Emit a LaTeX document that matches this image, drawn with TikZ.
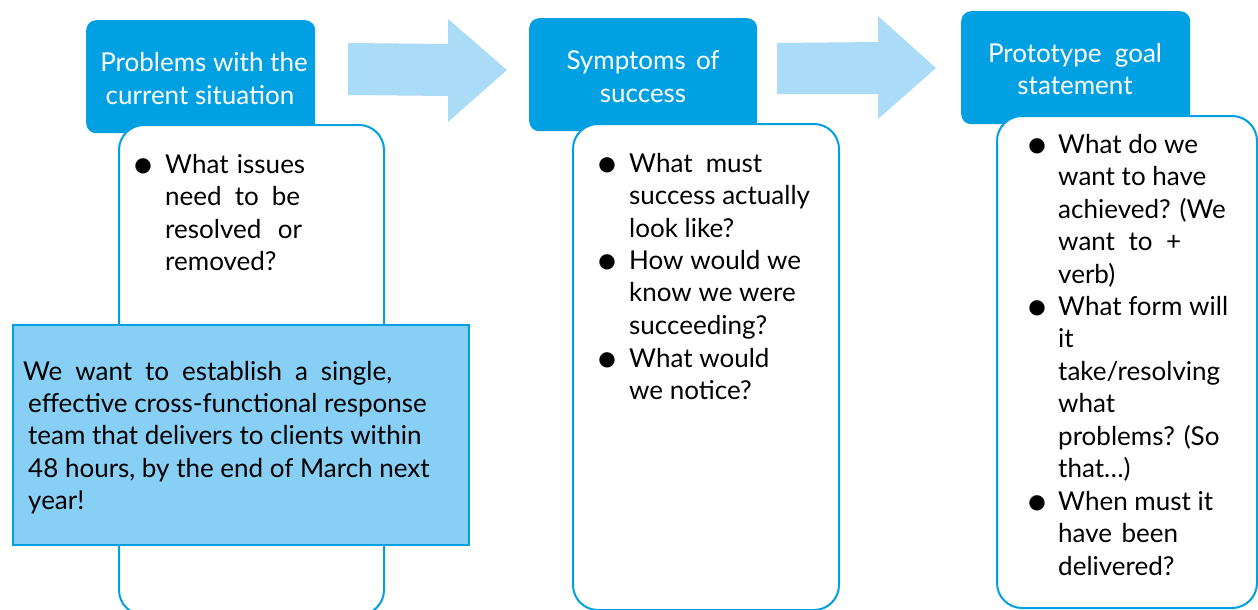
\documentclass[tikz,border=0pt]{standalone}
\usepackage{fontspec}
\setmainfont{Lato}
\newfontfamily\bulletfont{DejaVu Sans}
\definecolor{hdrblue}{RGB}{0,160,227}
\definecolor{goalblue}{RGB}{135,207,245}
\definecolor{flowblue}{RGB}{170,220,247}
\tikzset{
  hdr/.style={fill=hdrblue, draw=none, rounded corners=10pt, inner sep=0, anchor=north west},
  panel/.style={draw=hdrblue, line width=2pt, fill=white, rounded corners=25pt, inner sep=0, anchor=north west},
  goal/.style={draw=hdrblue, line width=2pt, fill=goalblue, inner sep=0, anchor=north west},
  flow/.style={fill=flowblue, draw=none},
  txt/.style={font=\fontsize{26}{32.5}\selectfont, inner sep=0, anchor=base west},
  htxt/.style={font=\fontsize{26}{33}\selectfont, text=white, inner sep=0, anchor=base},
  bul/.style={font=\bulletfont\fontsize{20}{20}\selectfont, inner sep=0, anchor=center}
}
% stack of text lines, 32.5 units apart, starting at a given baseline
\newcommand{\textlines}[4]{% x, first baseline, name prefix, lines
  \foreach \ln [count=\i] in {#4}
    \node[txt] (#3-\i) at (#1, #2+32.5*\i-32.5) {\ln};
}
\begin{document}
\begin{tikzpicture}[x=1pt, y=-1pt]
\useasboundingbox (0,0) rectangle (1258,610);

% block arrows between the stages
\fill[flow] (348,43) -- (448,44) -- (448,19) -- (507,70) -- (448,122) -- (448,96) -- (348,95) -- cycle;
\fill[flow] (777,43) -- (878,42) -- (878,16) -- (936,68) -- (878,119) -- (878,94) -- (777,94) -- cycle;

% stage headers
\node[hdr, minimum width=229pt, minimum height=113pt] (h1) at (86,20) {};
\node[hdr, minimum width=228pt, minimum height=113pt] (h2) at (529,18) {};
\node[hdr, minimum width=229pt, minimum height=113pt] (h3) at (961,11) {};

% question panels
\node[panel, minimum width=265pt, minimum height=490pt] (p1) at (118,124) {};
\node[panel, minimum width=266pt, minimum height=486pt] (p2) at (572,123) {};
\node[panel, minimum width=260pt, minimum height=492pt] (p3) at (996,115) {};

% header titles
\node[htxt] (t1a) at (204,71) {Problems with the};
\node[htxt] (t1b) at (200,104) {current situation};
\node[htxt] (t2a) at (643,70) {\makebox[153pt][s]{Symptoms of}};
\node[htxt] (t2b) at (643,102) {success};
\node[htxt] (t3a) at (1075,63) {\makebox[174pt][s]{Prototype goal}};
\node[htxt] (t3b) at (1075,95) {statement};

% panel 1
\node[bul] (b1) at (143,166) {●};
\textlines{165}{173}{q1}{{\makebox[140pt][s]{What issues}},{\makebox[135pt][s]{need to be}},{\makebox[137pt][s]{resolved or}},removed?}

% panel 2
\node[bul] (b2a) at (607,165) {●};
\textlines{629}{172}{q2a}{{\makebox[133pt][s]{What must}},success actually,look like?}
\node[bul] (b2b) at (607,262) {●};
\textlines{629}{269}{q2b}{How would we,know we were,succeeding?}
\node[bul] (b2c) at (607,360) {●};
\textlines{629}{367}{q2c}{What would,we notice?}

% panel 3
\node[bul] (b3a) at (1037,146) {●};
\textlines{1058}{153}{q3a}{What do we,want to have,achieved? (We,{\makebox[123pt][s]{want to +}},verb)}
\node[bul] (b3b) at (1037,308) {●};
\textlines{1058}{315}{q3b}{What form will,it,take/resolving,what,problems? (So,that\dots)}
\node[bul] (b3c) at (1037,503) {●};
\textlines{1058}{510}{q3c}{When must it,{\makebox[120pt][s]{have been}},delivered?}

% goal statement
\node[goal, minimum width=456pt, minimum height=220pt] (g) at (12,324) {};
\node[txt] (g1) at (23,380) {\makebox[369pt][s]{We want to establish a single,}};
\textlines{28}{412}{g}{effective cross-functional response,team that delivers to clients within,48 hours{,} by the end of March next,year!}
\end{tikzpicture}
\end{document}
